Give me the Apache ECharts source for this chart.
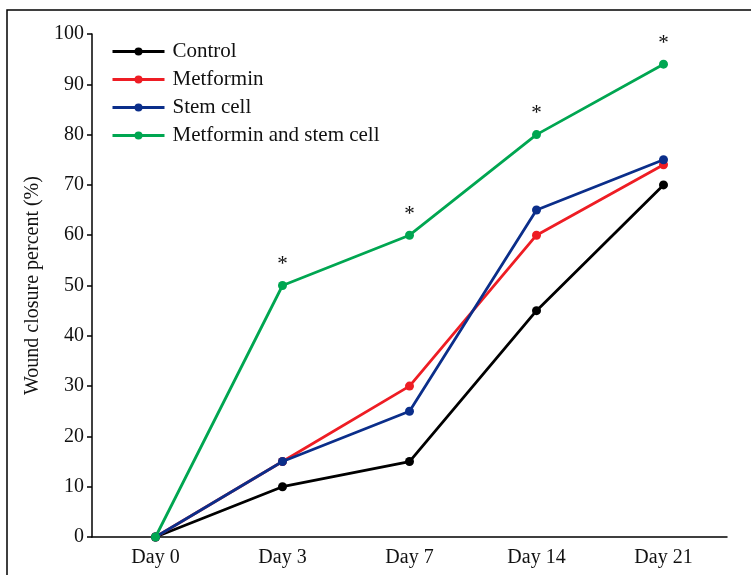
<!DOCTYPE html>
<html><head><meta charset="utf-8">
<script src="https://cdn.jsdelivr.net/npm/echarts@6/dist/echarts.min.js"></script>
<style>html,body{margin:0;padding:0;background:#fff}#c{width:751px;height:575px}</style>
</head><body><div id="c"></div>
<script>
const categories = ['Day 0', 'Day 3', 'Day 7', 'Day 14', 'Day 21'];
const control = [0, 10, 15, 45, 70];
const metformin = [0, 15, 30, 60, 74];
const stemCell = [0, 15, 25, 65, 75];
const combo = [0, 50, 60, 80, 94];
const significant = [false, true, true, true, true];
const yTicks = {min: 0, max: 100, interval: 10};

const font = 'Liberation Serif';
const chart = echarts.init(document.getElementById('c'));
function mk(name, data, color, z) {
  return {
    name, type: 'line', data, z,
    symbol: 'circle', symbolSize: 9,
    lineStyle: {color, width: 2.8},
    itemStyle: {color},
    emphasis: {disabled: true}
  };
}
const comboSeries = mk('Metformin and stem cell', combo.map((v, i) => ({
  value: v,
  label: {show: significant[i], formatter: '*', position: 'top', distance: 6,
    fontFamily: font, fontSize: 21, color: '#111'}
})), '#00a651', 4);
chart.setOption({
  animation: false,
  graphic: [{type: 'rect', shape: {x: 7, y: 10, width: 760, height: 580},
    style: {fill: 'none', stroke: '#000', lineWidth: 1.5}}],
  grid: {left: 92, right: 24, top: 34, bottom: 38},
  legend: {
    left: 106, top: 36, orient: 'vertical', itemGap: 7, itemWidth: 52, itemHeight: 10,
    lineStyle: {width: 3},
    textStyle: {fontFamily: font, fontSize: 21, color: '#111', padding: [0, 0, 0, 3]},
    data: ['Control', 'Metformin', 'Stem cell', 'Metformin and stem cell']
  },
  xAxis: {
    type: 'category', data: categories, boundaryGap: true,
    axisLine: {lineStyle: {color: '#000', width: 1.5}},
    axisTick: {show: false},
    axisLabel: {fontFamily: font, fontSize: 20, color: '#111', margin: 11}
  },
  yAxis: {
    type: 'value', min: yTicks.min, max: yTicks.max, interval: yTicks.interval,
    name: 'Wound closure percent (%)', nameLocation: 'middle', nameGap: 35,
    nameTextStyle: {fontFamily: font, fontSize: 20, color: '#111'},
    axisLine: {show: true, lineStyle: {color: '#000', width: 1.5}},
    axisTick: {show: true, length: 5, lineStyle: {color: '#000', width: 1.5}},
    splitLine: {show: false},
    axisLabel: {fontFamily: font, fontSize: 20, color: '#111', margin: 8}
  },
  series: [
    mk('Control', control, '#000000', 1),
    mk('Metformin', metformin, '#ee1d24', 2),
    mk('Stem cell', stemCell, '#0b2e8a', 3),
    comboSeries
  ]
});
</script></body></html>
